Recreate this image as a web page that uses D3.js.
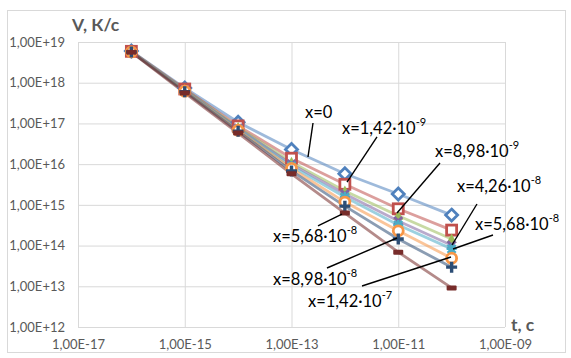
<!DOCTYPE html>
<html><head><meta charset="utf-8">
<script src="https://cdn.jsdelivr.net/npm/d3@7"></script>
<style>body{margin:0;background:#fff}</style>
</head><body><svg id="c" width="571" height="358"></svg>
<script>
// ---- data ----
const times = [1e-16, 1e-15, 1e-14, 1e-13, 1e-12, 1e-11, 1e-10];
const xTicks = [1e-17, 1e-15, 1e-13, 1e-11, 1e-9];
const yTicks = [1e12, 1e13, 1e14, 1e15, 1e16, 1e17, 1e18, 1e19];
const sBlue   = [6.0e18, 7.4e17, 1.07e17, 2.3e16, 5.8e15, 1.85e15, 5.6e14];
const sRed    = [5.9e18, 7.0e17, 8.7e16, 1.4e16, 3.2e15, 8.0e14, 2.4e14];
const sGreen  = [5.8e18, 6.8e17, 8.0e16, 1.12e16, 2.2e15, 5.4e14, 1.45e14];
const sPurple = [5.8e18, 6.6e17, 7.6e16, 1.0e16, 1.85e15, 4.0e14, 1.02e14];
const sCyan   = [5.7e18, 6.4e17, 7.2e16, 8.9e15, 1.55e15, 3.2e14, 8.3e13];
const sOrange = [5.7e18, 6.2e17, 6.8e16, 7.9e15, 1.17e15, 2.3e14, 4.9e13];
const sNavy   = [5.7e18, 6.0e17, 6.4e16, 6.8e15, 9.3e14, 1.45e14, 2.95e13];
const sMaroon = [5.6e18, 5.6e17, 5.8e16, 5.8e15, 6.3e14, 6.9e13, 9.1e12];
const seriesValues = [sBlue, sRed, sGreen, sPurple, sCyan, sOrange, sNavy, sMaroon];
const seriesColors = ["#4F81BD", "#C0504D", "#9BBB59", "#8064A2", "#4BACC6", "#F79646", "#2C4D75", "#772C2A"];
const seriesMarkers = ["diamond", "square", "triangle", "x", "star", "circle", "plus", "dash"];

// annotation labels: main text, superscript, text anchor (log t, log V), pointer from / to (log t, log V)
const annMain = ["x=0", "x=1,42·10", "x=8,98·10", "x=4,26·10", "x=5,68·10", "x=5,68·10", "x=8,98·10", "x=1,42·10"];
const annSup  = ["", "-9", "-9", "-8", "-8", "-8", "-8", "-7"];
const annText = [[-12.747, 17.133], [-12.054, 16.740], [-10.311, 16.175], [-9.899, 15.316], [-9.562, 14.382], [-13.347, 14.088], [-13.347, 13.032], [-12.691, 12.491]];
const annFrom = [[-12.597, 17.011], [-11.398, 16.667], [-10.218, 16.028], [-9.525, 15.021], [-9.225, 14.260], [-12.504, 14.481], [-12.335, 13.449], [-11.679, 13.007]];
const annTo   = [[-12.691, 16.175], [-11.960, 15.561], [-11.023, 14.800], [-9.993, 14.014], [-9.974, 13.916], [-12.054, 14.775], [-11.023, 14.186], [-10.012, 13.719]];

// ---- layout ----
const svg = d3.select("#c");
const L = 78, R = 505, T = 42, B = 327;
const x = d3.scaleLog().domain([1e-17, 1e-9]).range([L, R]);
const y = d3.scaleLog().domain([1e12, 1e19]).range([B, T]);
const font = "Lato, 'Liberation Sans', sans-serif";
const gray = "#595959";

svg.append("rect").attr("x", 7.5).attr("y", 10.5).attr("width", 558).attr("height", 342)
  .attr("fill", "#fff").attr("stroke", "#D9D9D9");

const fmt = v => { const e = Math.round(Math.log10(v)); return "1,00E" + (e >= 0 ? "+" : "-") + String(Math.abs(e)).padStart(2, "0"); };

const gy = svg.append("g").attr("transform", `translate(${L},0)`)
  .call(d3.axisLeft(y).tickValues(yTicks).tickFormat(fmt).tickSize(-(R - L)).tickPadding(13));
const gx = svg.append("g").attr("transform", `translate(0,${B})`)
  .call(d3.axisBottom(x).tickValues(xTicks).tickFormat(fmt).tickSize(-(B - T)).tickPadding(13));
[gx, gy].forEach(g => {
  g.select(".domain").remove();
  g.selectAll(".tick line").attr("stroke", "#D9D9D9").attr("stroke-width", 1);
  g.selectAll(".tick text").attr("fill", gray).attr("font-family", font).attr("font-size", 13);
});

// axis titles
svg.append("text").attr("x", 72).attr("y", 31).text("V, К/с")
  .attr("font-family", font).attr("font-weight", "bold").attr("font-size", 17.5).attr("fill", gray);
svg.append("text").attr("x", 511).attr("y", 331).text("t, c")
  .attr("font-family", font).attr("font-weight", "bold").attr("font-size", 17.5).attr("fill", gray);

// series
const line = d3.line().x((d, i) => x(times[i])).y(d => y(d));
function marker(g, type, color, cx, cy) {
  const sw = 2.8;
  if (type === "diamond") {
    g.append("path").attr("d", `M${cx},${cy-6}L${cx+6},${cy}L${cx},${cy+6}L${cx-6},${cy}Z`)
      .attr("fill", "#fff").attr("stroke", color).attr("stroke-width", sw);
  } else if (type === "square") {
    g.append("rect").attr("x", cx-5).attr("y", cy-5).attr("width", 10).attr("height", 10)
      .attr("fill", "#fff").attr("stroke", color).attr("stroke-width", sw);
  } else if (type === "triangle") {
    g.append("path").attr("d", `M${cx},${cy-5.5}L${cx+5},${cy+4}L${cx-5},${cy+4}Z`).attr("fill", color);
  } else if (type === "x") {
    g.append("path").attr("d", `M${cx-4},${cy-4}L${cx+4},${cy+4}M${cx+4},${cy-4}L${cx-4},${cy+4}`)
      .attr("stroke", color).attr("stroke-width", 3);
  } else if (type === "star") {
    g.append("path").attr("d", `M${cx-4},${cy-4}L${cx+4},${cy+4}M${cx+4},${cy-4}L${cx-4},${cy+4}M${cx},${cy-5}L${cx},${cy+5}M${cx-5},${cy}L${cx+5},${cy}`)
      .attr("stroke", color).attr("stroke-width", 2.5);
  } else if (type === "circle") {
    g.append("circle").attr("cx", cx).attr("cy", cy).attr("r", 5)
      .attr("fill", "#fff").attr("stroke", color).attr("stroke-width", sw);
  } else if (type === "plus") {
    g.append("path").attr("d", `M${cx-5.5},${cy}L${cx+5.5},${cy}M${cx},${cy-5.5}L${cx},${cy+5.5}`)
      .attr("stroke", color).attr("stroke-width", 3.4);
  } else if (type === "dash") {
    g.append("rect").attr("x", cx-5).attr("y", cy-2.5).attr("width", 10).attr("height", 5).attr("rx", 1).attr("fill", color);
  }
}
seriesValues.forEach((vals, si) => {
  svg.append("path").attr("d", line(vals)).attr("fill", "none")
    .attr("stroke", seriesColors[si]).attr("stroke-opacity", 0.55).attr("stroke-width", 2.8);
});
seriesValues.forEach((vals, si) => {
  const g = svg.append("g");
  vals.forEach((v, i) => marker(g, seriesMarkers[si], seriesColors[si], x(times[i]), y(v)));
});

// annotations
const P = p => [x(Math.pow(10, p[0])), y(Math.pow(10, p[1]))];
annMain.forEach((txt, i) => {
  const a = P(annFrom[i]), b = P(annTo[i]);
  svg.append("line").attr("x1", a[0]).attr("y1", a[1]).attr("x2", b[0]).attr("y2", b[1])
    .attr("stroke", "#000").attr("stroke-width", 1.4);
  const t = P(annText[i]);
  const te = svg.append("text").attr("x", t[0]).attr("y", t[1])
    .attr("font-family", font).attr("font-size", 16.5).attr("fill", "#000");
  te.append("tspan").text(txt);
  if (annSup[i]) te.append("tspan").attr("dy", -8).attr("font-size", 11).text(annSup[i]);
});
</script></body></html>
